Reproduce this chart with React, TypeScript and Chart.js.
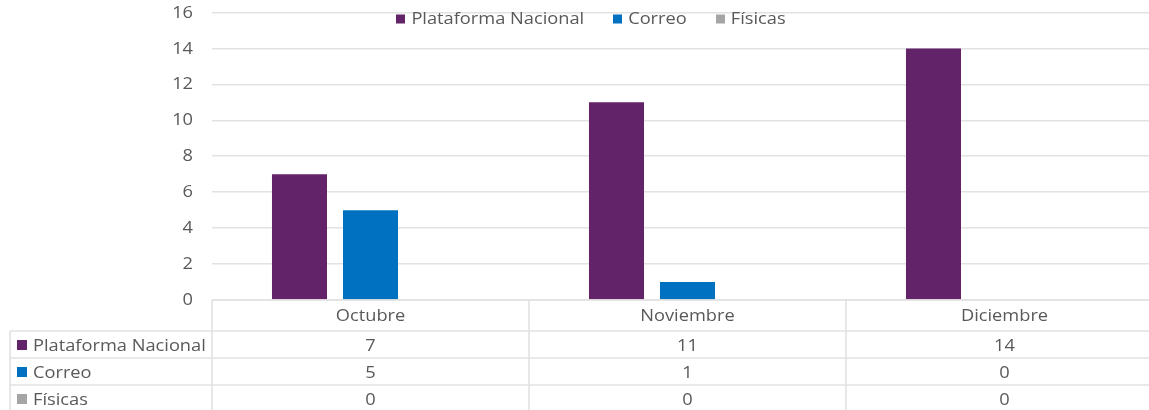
import React, { useEffect, useRef } from "react";
import { Chart, registerables } from "chart.js";

Chart.register(...registerables);

const categories = ["Octubre", "Noviembre", "Diciembre"];
const seriesNames = ["Plataforma Nacional", "Correo", "Físicas"];
const plataformaValues = [7, 11, 14];
const correoValues = [5, 1, 0];
const fisicasValues = [0, 0, 0];
const seriesColors = ["#632369", "#0070C0", "#A5A5A5"];
const yMin = 0;
const yMax = 16;
const yStep = 2;

const FONT = "'Open Sans', 'Noto Sans', sans-serif";
const FONT_SIZE = 16;
const SX = 1.14;
const TEXT_COLOR = "#595959";
const LINE_COLOR = "#e2e2e2";
const LINE_W = 1.6;

const allSeries = [plataformaValues, correoValues, fisicasValues];

function drawText(ctx: CanvasRenderingContext2D, text: string, x: number, y: number, align: CanvasTextAlign) {
  ctx.save();
  ctx.translate(x, y);
  ctx.scale(SX, 1);
  ctx.textAlign = align;
  ctx.fillText(text, 0, 0);
  ctx.restore();
}

const yLabelsPlugin = {
  id: "yLabels",
  afterDraw(chart: any) {
    const ctx = chart.ctx;
    const y = chart.scales.y;
    ctx.save();
    ctx.font = `${FONT_SIZE}px ${FONT}`;
    ctx.fillStyle = TEXT_COLOR;
    ctx.textBaseline = "middle";
    y.ticks.forEach((t: any) => {
      drawText(ctx, String(t.value), 193, y.getPixelForValue(t.value) + 0.5, "right");
    });
    ctx.restore();
  },
};

const legendPlugin = {
  id: "topLegend",
  afterDraw(chart: any) {
    const ctx = chart.ctx;
    ctx.save();
    ctx.font = `${FONT_SIZE}px ${FONT}`;
    ctx.textBaseline = "middle";
    const box = 9;
    const gapText = 6;
    const gapItem = 29;
    const widths = seriesNames.map((n) => ctx.measureText(n).width * SX);
    const total =
      widths.reduce((a, b) => a + b, 0) +
      seriesNames.length * (box + gapText) +
      (seriesNames.length - 1) * gapItem;
    let x = 591 - total / 2;
    const y = 19;
    seriesNames.forEach((name, i) => {
      ctx.fillStyle = seriesColors[i];
      ctx.fillRect(Math.round(x), y - 4.5, box, box);
      x += box + gapText;
      ctx.fillStyle = TEXT_COLOR;
      drawText(ctx, name, x, y + 0.5, "left");
      x += widths[i] + gapItem;
    });
    ctx.restore();
  },
};

const tablePlugin = {
  id: "dataTable",
  afterDraw(chart: any) {
    const ctx = chart.ctx;
    const area = chart.chartArea;
    const xScale = chart.scales.x;
    const n = categories.length;
    const colW = (area.right - area.left) / n;
    const top = Math.round(area.bottom);
    const headerH = 30.5;
    const rowH = 27.3;
    const tableLeft = 10;
    const bottom = chart.height + 2;
    ctx.save();
    ctx.strokeStyle = LINE_COLOR;
    ctx.lineWidth = LINE_W;
    ctx.beginPath();
    ctx.moveTo(area.left, top);
    ctx.lineTo(area.right, top);
    for (let i = 0; i <= n; i++) {
      const cx = Math.round(area.left + i * colW);
      ctx.moveTo(cx, top);
      ctx.lineTo(cx, bottom);
    }
    for (let r = 0; r <= seriesNames.length; r++) {
      const ry = Math.round(top + headerH + r * rowH);
      ctx.moveTo(tableLeft, ry);
      ctx.lineTo(area.right, ry);
    }
    ctx.moveTo(tableLeft, Math.round(top + headerH));
    ctx.lineTo(tableLeft, bottom);
    ctx.stroke();

    ctx.font = `${FONT_SIZE}px ${FONT}`;
    ctx.fillStyle = TEXT_COLOR;
    ctx.textBaseline = "alphabetic";
    categories.forEach((c, i) => {
      drawText(ctx, c, xScale.getPixelForValue(i), top + 21, "center");
    });
    seriesNames.forEach((name, r) => {
      const rowTop = top + headerH + r * rowH;
      const base = rowTop + 20;
      ctx.fillStyle = seriesColors[r];
      ctx.fillRect(17, Math.round(rowTop + 9), 10, 10);
      ctx.fillStyle = TEXT_COLOR;
      drawText(ctx, name, 33, base, "left");
      allSeries[r].forEach((v, i) => {
        drawText(ctx, String(v), xScale.getPixelForValue(i), base, "center");
      });
    });
    ctx.restore();
  },
};

export default function App() {
  const canvasRef = useRef<HTMLCanvasElement | null>(null);

  useEffect(() => {
    if (!canvasRef.current) return;
    const chart = new Chart(canvasRef.current, {
      type: "bar",
      data: {
        labels: categories,
        datasets: seriesNames.map((name, i) => ({
          label: name,
          data: allSeries[i],
          backgroundColor: seriesColors[i],
          borderWidth: 0,
          categoryPercentage: 0.672,
          barPercentage: 0.775,
        })),
      },
      options: {
        responsive: false,
        animation: false,
        layout: { padding: { top: 12.5, bottom: 110, left: 0, right: 0 } },
        plugins: {
          legend: { display: false },
          tooltip: { enabled: false },
          title: { display: false },
        },
        scales: {
          x: {
            display: false,
            grid: { display: false },
          },
          y: {
            min: yMin,
            max: yMax,
            border: { display: false },
            grid: { color: LINE_COLOR, lineWidth: LINE_W, drawTicks: false },
            ticks: {
              stepSize: yStep,
              display: false,
            },
            afterFit(scale: any) {
              scale.width = 212;
              scale.paddingTop = 0;
              scale.paddingBottom = 0;
            },
          },
        },
      },
      plugins: [legendPlugin, tablePlugin, yLabelsPlugin],
    });
    return () => chart.destroy();
  }, []);

  return (
    <div
      style={{
        position: "fixed",
        left: 0,
        top: 0,
        width: 1149,
        height: 410,
        overflow: "hidden",
        background: "#ffffff",
      }}
    >
      <canvas
        ref={canvasRef}
        width={1163}
        height={410}
        style={{ width: 1163, height: 410, display: "block" }}
      />
    </div>
  );
}
